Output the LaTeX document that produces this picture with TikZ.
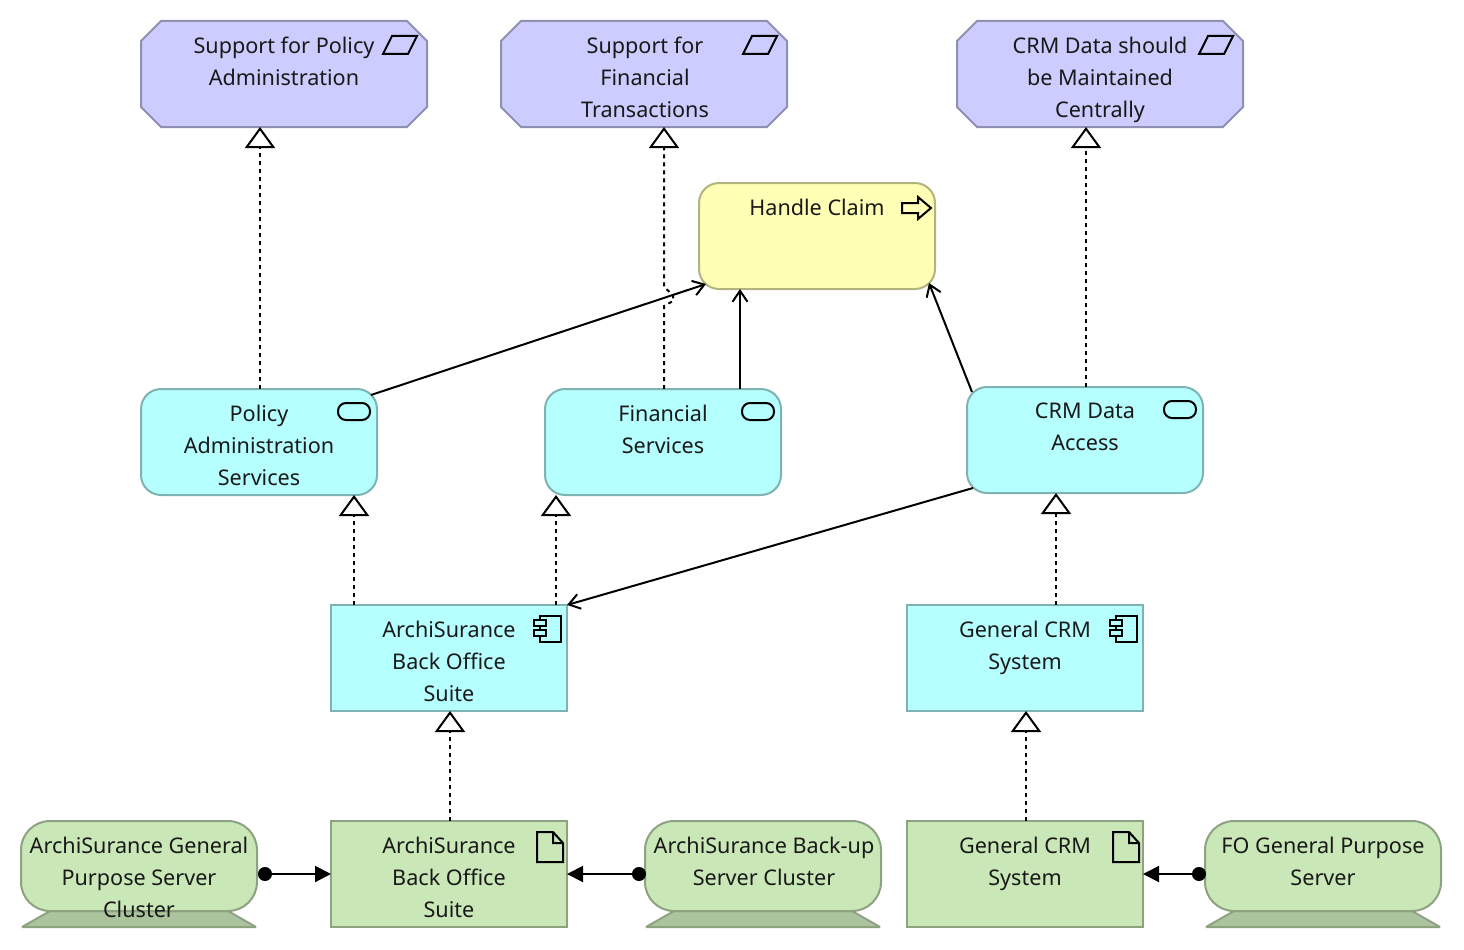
\documentclass[tikz,border=0pt]{standalone}
\usepackage{fontspec}
\setmainfont{Noto Sans}
\usetikzlibrary{arrows.meta}
\definecolor{goalfill}{HTML}{CCCCFF}
\definecolor{goalline}{HTML}{8F8FB3}
\definecolor{procfill}{HTML}{FFFFB5}
\definecolor{procline}{HTML}{B3B37F}
\definecolor{appfill}{HTML}{B5FFFF}
\definecolor{appline}{HTML}{7FB3B3}
\definecolor{techfill}{HTML}{C9E7B7}
\definecolor{techline}{HTML}{8DA281}
\definecolor{basefill}{HTML}{ACC49D}
\begin{document}
\begin{tikzpicture}[
		x=1pt, y=-1pt,
		every node/.style={inner sep=0, outer sep=0, line width=2pt},
		box/.style={draw, minimum width=236pt, minimum height=106pt},
		goal/.style={minimum width=286pt, minimum height=106pt},
		proc/.style={box, draw=procline, fill=procfill, rounded corners=20pt},
		service/.style={box, draw=appline, fill=appfill, rounded corners=20pt},
		comp/.style={box, draw=appline, fill=appfill},
		artifact/.style={box, draw=techline, fill=techfill},
		device/.style={draw=techline, fill=techfill, rounded corners=29pt, minimum width=236pt, minimum height=90pt},
		lbl/.style={anchor=north, align=center, text=black!90, yshift=-16pt, font=\fontsize{21.6}{32}\selectfont, execute at begin node={\strut}},
		realize/.style={line width=2pt, dash pattern=on 4pt off 4pt, -{Triangle[open, length=21pt, width=30pt, line width=2pt]}},
		flow/.style={line width=2pt, -{Straight Barb[length=11pt, width=15pt, line width=2pt]}},
		assign/.style={line width=2pt, {Circle[length=14pt]}-{Triangle[length=16pt, width=16pt]}},
		goalshape/.pic={\draw[line width=2pt, draw=goalline, fill=goalfill] (-143,-33) -- (-123,-53) -- (123,-53) -- (143,-33) -- (143,33) -- (123,53) -- (-123,53) -- (-143,33) -- cycle;},
		goalicon/.pic={\draw[line width=2pt] (-44,33) -- (-35,15) -- (-10,15) -- (-19,33) -- cycle;},
		procicon/.pic={\draw[line width=2pt] (-33,20) -- (-17,20) -- (-17,14) -- (-4,25) -- (-17,36) -- (-17,30) -- (-33,30) -- cycle;},
		serviceicon/.pic={\draw[line width=2pt, rounded corners=8pt] (-39,14) rectangle (-7,31);},
		compicon/.pic={
			\draw[line width=2pt] (-27,11) rectangle (-6,37);
			\draw[line width=2pt, fill=appfill] (-33,15) rectangle (-21,21);
			\draw[line width=2pt, fill=appfill] (-33,25) rectangle (-21,31);
		},
		articon/.pic={\draw[line width=2pt] (-30,11) -- (-14,11) -- (-4,22) -- (-4,41) -- (-30,41) -- cycle (-14,11) -- (-14,22) -- (-4,22);},
		devbase/.pic={\draw[line width=2pt, line join=bevel, draw=techline, fill=basefill] (-117,16) -- (-89,0) -- (89,0) -- (117,16) -- cycle;},
	]
	\useasboundingbox (0,0) rectangle (1464,950);

	\node[goal] (goal1) at (284,74) {};
	\node[goal] (goal2) at (644,74) {};
	\node[goal] (goal3) at (1100,74) {};
	\pic at (goal1) {goalshape};
	\pic at (goal2) {goalshape};
	\pic at (goal3) {goalshape};
	\node[proc] (claim) at (817,236) {};
	\node[service] (polsvc) at (259,442) {};
	\node[service] (finsvc) at (663,442) {};
	\node[service] (crmsvc) at (1085,440) {};
	\node[comp] (suite) at (449,658) {};
	\node[comp] (crmsys) at (1025,658) {};
	\node[artifact] (suiteart) at (449,874) {};
	\node[artifact] (crmart) at (1025,874) {};
	\pic at (139,911) {devbase};
	\pic at (763,911) {devbase};
	\pic at (1323,911) {devbase};
	\node[device] (dev1) at (139,866) {};
	\node[device] (dev2) at (763,866) {};
	\node[device] (dev3) at (1323,866) {};

	\node[lbl] (goal1txt) at (goal1.north) {Support for Policy\\Administration};
	\node[lbl] (goal2txt) at ([xshift=1pt]goal2.north) {Support for\\Financial\\Transactions};
	\node[lbl] (goal3txt) at (goal3.north) {CRM Data should\\be Maintained\\Centrally};
	\node[lbl] (claimtxt) at ([yshift=6pt]claim.north) {Handle Claim};
	\node[lbl] (polsvctxt) at (polsvc.north) {Policy\\Administration\\Services};
	\node[lbl] (finsvctxt) at (finsvc.north) {Financial\\Services};
	\node[lbl] (crmsvctxt) at (crmsvc.north) {CRM Data\\Access};
	\node[lbl] (suitetxt) at (suite.north) {ArchiSurance\\Back Office\\Suite};
	\node[lbl] (crmsystxt) at (crmsys.north) {General CRM\\System};
	\node[lbl] (suitearttxt) at (suiteart.north) {ArchiSurance\\Back Office\\Suite};
	\node[lbl] (crmarttxt) at (crmart.north) {General CRM\\System};
	\node[lbl] (dev1txt) at (dev1.north) {ArchiSurance General\\Purpose Server\\Cluster};
	\node[lbl] (dev2txt) at ([xshift=1pt]dev2.north) {ArchiSurance Back-up\\Server Cluster};
	\node[lbl] (dev3txt) at (dev3.north) {FO General Purpose\\Server};

	\pic at (goal1.north east) {goalicon};
	\pic at (goal2.north east) {goalicon};
	\pic at (goal3.north east) {goalicon};
	\pic at (claim.north east) {procicon};
	\pic at (polsvc.north east) {serviceicon};
	\pic at (finsvc.north east) {serviceicon};
	\pic at (crmsvc.north east) {serviceicon};
	\pic at (suite.north east) {compicon};
	\pic at (crmsys.north east) {compicon};
	\pic at (suiteart.north east) {articon};
	\pic at (crmart.north east) {articon};

	\draw[realize] ([xshift=1pt]polsvc.north) -- ([xshift=1pt]polsvc.north |- goal1.south);
	\draw[realize] ([xshift=1pt]finsvc.north) -- (664,306) -- (673,301) -- (673,295) -- (664,287) -- ([xshift=1pt]finsvc.north |- goal2.south);
	\draw[realize] ([xshift=1pt]crmsvc.north) -- ([xshift=1pt]crmsvc.north |- goal3.south);
	\draw[realize] ([xshift=-95pt]suite.north) -- ([xshift=-95pt]suite.north |- polsvc.south);
	\draw[realize] ([xshift=107pt]suite.north) -- ([xshift=107pt]suite.north |- finsvc.south);
	\draw[realize] ([xshift=31pt]crmsys.north) -- ([xshift=31pt]crmsys.north |- crmsvc.south);
	\draw[realize] ([xshift=1pt]suiteart.north) -- ([xshift=1pt]suite.south);
	\draw[realize] ([xshift=1pt]crmart.north) -- ([xshift=1pt]crmsys.south);

	\draw[flow] ([shift={(-6,6)}]polsvc.north east) -- ([shift={(7,-5)}]claim.south west);
	\draw[flow] ([xshift=77pt]finsvc.north) -- ([xshift=77pt]finsvc.north |- claim.south);
	\draw[flow] ([shift={(5,5)}]crmsvc.north west) -- ([shift={(-6,-6)}]claim.south east);
	\draw[flow] ([shift={(6,-5)}]crmsvc.south west) -- (suite.north east);

	\draw[assign] ([xshift=1pt]dev1.east |- suiteart.west) -- (suiteart.west);
	\draw[assign] ([xshift=1pt]dev2.west |- suiteart.east) -- (suiteart.east);
	\draw[assign] ([xshift=1pt]dev3.west |- crmart.east) -- (crmart.east);
\end{tikzpicture}
\end{document}
